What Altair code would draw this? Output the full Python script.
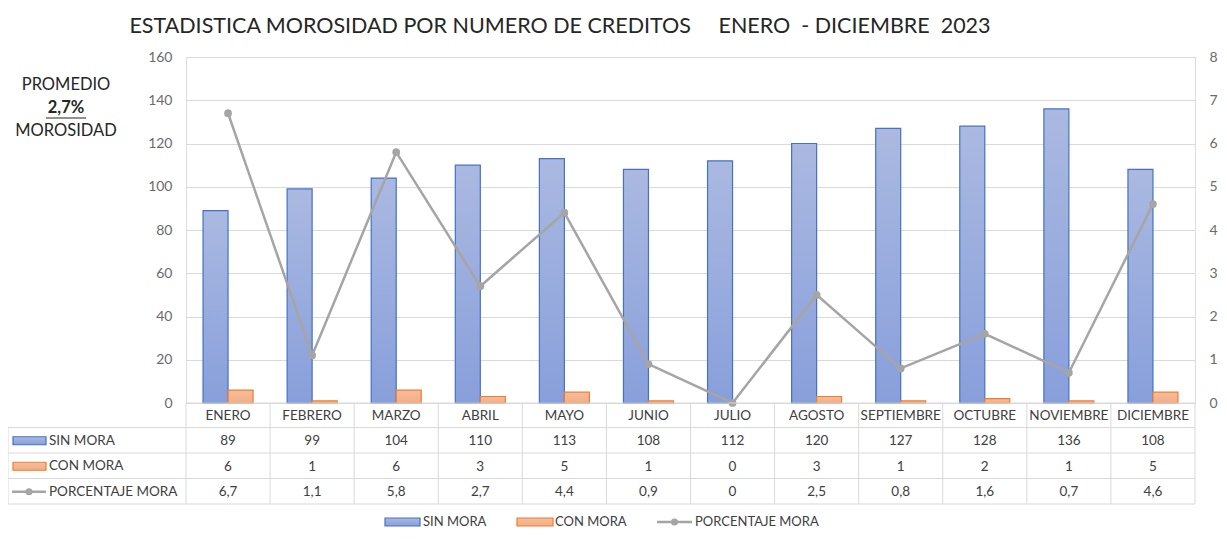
import altair as alt
import pandas as pd

# ---------------- data ----------------
months = ["ENERO", "FEBRERO", "MARZO", "ABRIL", "MAYO", "JUNIO", "JULIO",
          "AGOSTO", "SEPTIEMBRE", "OCTUBRE", "NOVIEMBRE", "DICIEMBRE"]
sin_mora = [89, 99, 104, 110, 113, 108, 112, 120, 127, 128, 136, 108]
con_mora = [6, 1, 6, 3, 5, 1, 0, 3, 1, 2, 1, 5]
porcentaje = [6.7, 1.1, 5.8, 2.7, 4.4, 0.9, 0, 2.5, 0.8, 1.6, 0.7, 4.6]
series_names = ["SIN MORA", "CON MORA", "PORCENTAJE MORA"]
title_text = "ESTADISTICA MOROSIDAD POR NUMERO DE CREDITOS\u00a0\u00a0\u00a0\u00a0\u00a0ENERO\u00a0\u00a0-\u00a0DICIEMBRE\u00a0\u00a02023"
promedio_lines = ["PROMEDIO", "2,7%", "MOROSIDAD"]

# ---------------- style ----------------
W, H = 1009, 346
FONT = "Lato"
TXT = "#404040"
GRID = "#d9d9d9"
BLUE_STROKE = "#4472c4"
ORANGE_STROKE = "#ed7d31"
GRAY = "#a5a5a5"
TFS = 13.5

blue_grad = alt.Gradient(gradient="linear", x1=0, x2=0, y1=0, y2=1,
                         stops=[alt.GradientStop(color="#abb9e1", offset=0),
                                alt.GradientStop(color="#889fdb", offset=1)])
orange_grad = alt.Gradient(gradient="linear", x1=0, x2=0, y1=0, y2=1,
                           stops=[alt.GradientStop(color="#f6bd9a", offset=0),
                                  alt.GradientStop(color="#f3ad86", offset=1)])

df = pd.DataFrame({"mes": months, "sin": sin_mora, "con": con_mora, "pct": porcentaje})
df["pct_lbl"] = ["0" if v == 0 else f"{v:.1f}".replace(".", ",") for v in porcentaje]

xscale = alt.Scale(domain=months, paddingInner=0, paddingOuter=0)
xenc = alt.X("mes:N", sort=months, scale=xscale, axis=None)

left_axis = alt.Axis(values=list(range(0, 161, 20)), grid=True, gridColor=GRID, domain=False,
                     ticks=False, labelPadding=14, labelColor="#6b6b6b", labelFontSize=14,
                     labelFont=FONT, title=None)
right_axis = alt.Axis(orient="right", values=list(range(0, 9)), grid=False, domain=False,
                      ticks=False, labelPadding=14, labelColor="#6b6b6b", labelFontSize=14,
                      labelFont=FONT, title=None)

base = alt.Chart(df)

blue = base.mark_bar(width=25, xOffset=-12.5, fill=blue_grad, stroke=BLUE_STROKE, strokeWidth=1.2).encode(
    x=xenc, y=alt.Y("sin:Q", scale=alt.Scale(domain=[0, 160]), axis=left_axis),
    strokeOpacity=alt.condition(alt.datum.sin > 0, alt.value(1), alt.value(0)))
orange = base.mark_bar(width=25, xOffset=12.5, fill=orange_grad, stroke=ORANGE_STROKE, strokeWidth=1.2).encode(
    x=xenc, y=alt.Y("con:Q", scale=alt.Scale(domain=[0, 160]), axis=left_axis),
    strokeOpacity=alt.condition(alt.datum.con > 0, alt.value(1), alt.value(0)))
line = base.mark_line(color=GRAY, strokeWidth=2.5,
                      point=alt.OverlayMarkDef(filled=True, color=GRAY, size=60, opacity=1)).encode(
    x=xenc, y=alt.Y("pct:Q", scale=alt.Scale(domain=[0, 8]), axis=right_axis))

main = alt.layer(alt.layer(blue, orange), line).resolve_scale(y="independent")

one = pd.DataFrame({"k": [0]})


def hrule(y, x1, x2):
    return alt.Chart(one).mark_rule(color=GRID, strokeWidth=1).encode(
        x=alt.value(x1), x2=alt.value(x2), y=alt.value(y))


def vrule(x, y1, y2):
    return alt.Chart(one).mark_rule(color=GRID, strokeWidth=1).encode(
        x=alt.value(x), y=alt.value(y1), y2=alt.value(y2))


def label(text, x, y, size=TFS, align="left", weight="normal", color=TXT):
    return alt.Chart(pd.DataFrame({"t": [text]})).mark_text(
        font=FONT, fontSize=size, align=align, baseline="middle", fontWeight=weight, color=color
    ).encode(x=alt.value(x), y=alt.value(y), text="t:N")


# table
T0, T1, T2, T3, T4 = 346, 370.5, 396, 421.5, 447
col_lines = base.mark_rule(color=GRID, strokeWidth=1).encode(
    x=alt.X("mes:N", sort=months, scale=xscale, axis=None, bandPosition=0),
    y=alt.value(T0), y2=alt.value(T4))
tcell = dict(font=FONT, fontSize=TFS, color=TXT, baseline="middle", align="center")
hdr = base.mark_text(**tcell).encode(x=xenc, y=alt.value((T0 + T1) / 2 + 1), text="mes:N")
r1 = base.mark_text(**tcell).encode(x=xenc, y=alt.value((T1 + T2) / 2 + 1), text="sin:Q")
r2 = base.mark_text(**tcell).encode(x=xenc, y=alt.value((T2 + T3) / 2 + 1), text="con:Q")
r3 = base.mark_text(**tcell).encode(x=xenc, y=alt.value((T3 + T4) / 2 + 1), text="pct_lbl:N")

table_lines = [
    hrule(T0, 0, W), hrule(T1, -178, W), hrule(T2, -178, W), hrule(T3, -178, W), hrule(T4, -178, W),
    vrule(W, T0, T4), vrule(-178, T1, T4),
]


def rect_sym(x1, x2, yc, fill, stroke):
    return alt.Chart(one).mark_rect(fill=fill, stroke=stroke, strokeWidth=1.2).encode(
        x=alt.value(x1), x2=alt.value(x2), y=alt.value(yc - 4), y2=alt.value(yc + 4))


def line_sym(x1, x2, yc):
    r = alt.Chart(one).mark_rule(color=GRAY, strokeWidth=2.5).encode(
        x=alt.value(x1), x2=alt.value(x2), y=alt.value(yc))
    p = alt.Chart(one).mark_point(filled=True, color=GRAY, size=50, opacity=1).encode(
        x=alt.value((x1 + x2) / 2), y=alt.value(yc))
    return [r, p]


yc1, yc2, yc3 = (T1 + T2) / 2 + 0.5, (T2 + T3) / 2 + 0.5, (T3 + T4) / 2 + 0.5
row_hdrs = [
    rect_sym(-173, -140, yc1, blue_grad, BLUE_STROKE), label(series_names[0], -137, yc1),
    rect_sym(-173, -140, yc2, orange_grad, ORANGE_STROKE), label(series_names[1], -137, yc2),
    *line_sym(-174, -140, yc3), label(series_names[2], -137, yc3),
]

LY = 465
LFS = 13
legend = [
    rect_sym(199, 234, LY, blue_grad, BLUE_STROKE), label(series_names[0], 237, LY, size=LFS),
    rect_sym(331, 367, LY, orange_grad, ORANGE_STROKE), label(series_names[1], 369, LY, size=LFS),
    *line_sym(471, 506, LY), label(series_names[2], 509, LY, size=LFS),
]

texts = [
    label(title_text, 374, -30, size=21.5, align="center", color="#262626"),
    label(promedio_lines[0], -120, 28, size=16.5, align="center", color="#262626"),
    label(promedio_lines[1], -120, 51, size=16.5, align="center", weight="bold", color="#262626"),
    label(promedio_lines[2], -120, 74, size=16.5, align="center", color="#262626"),
    alt.Chart(one).mark_rule(color="#262626", strokeWidth=1.2).encode(
        x=alt.value(-140), x2=alt.value(-100), y=alt.value(61)),
]

chart = alt.layer(
    main, col_lines, *table_lines, hdr, r1, r2, r3, *row_hdrs, *legend, *texts
).properties(
    width=W, height=H,
    autosize=alt.AutoSizeParams(type="none"),
    padding={"left": 178, "top": 49, "right": 24, "bottom": 128},
).configure_view(stroke=None).configure(background="white")

chart.save("out.html", embed_options={"renderer": "svg", "actions": False})
